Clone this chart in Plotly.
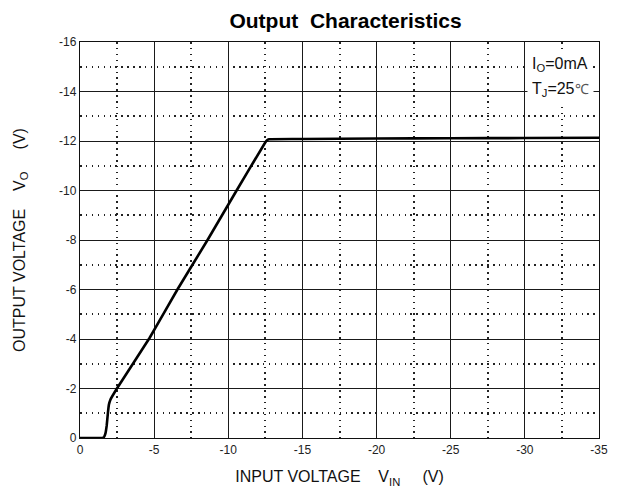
import plotly.graph_objects as go

# Data (V_IN, V_O in volts)
vin = [0, -1.0, -1.5, -1.62, -1.72, -1.8, -1.88, -1.95, -2.05, -2.49, -4.7, -6.57, -8.6, -10.56,
       -12.45, -12.6, -12.75, -15, -20, -25, -30, -35]
vout = [0, 0, 0, -0.04, -0.2, -0.5, -1.0, -1.35, -1.55, -2.0, -4.05, -6.0, -8.0, -10.0,
        -11.9, -12.02, -12.07, -12.08, -12.1, -12.11, -12.12, -12.13]

x_ticks = [0, -5, -10, -15, -20, -25, -30, -35]
y_ticks = [0, -2, -4, -6, -8, -10, -12, -14, -16]
x_minor = [-2.5, -7.5, -12.5, -17.5, -22.5, -27.5, -32.5]
y_minor = [-1, -3, -5, -7, -9, -11, -13, -15]

FONT = "Liberation Sans, Arial, sans-serif"

fig = go.Figure()
fig.add_trace(go.Scatter(x=vin, y=vout, mode="lines",
                         line=dict(color="black", width=2.6, shape="spline", smoothing=0.3),
                         hoverinfo="skip", showlegend=False))

tickfont = dict(family=FONT, size=12, color="#222")
minor_style = dict(showgrid=True, gridcolor="#222", gridwidth=1.6, griddash="1.5px,4.4px", ticks="")

fig.update_layout(
    xaxis=dict(
        range=[0, -35], tickvals=x_ticks, ticktext=[str(v) for v in x_ticks],
        showgrid=True, gridcolor="#1a1a1a", gridwidth=1.3,
        minor=dict(tickvals=x_minor, **minor_style),
        showline=True, linecolor="#111", linewidth=1.4, mirror=True,
        zeroline=False, ticks="", automargin=False, tickfont=tickfont,
        title=dict(text="INPUT VOLTAGE    V<sub>IN</sub>     (V)",
                   font=dict(family=FONT, size=16, color="#111"), standoff=15),
    ),
    yaxis=dict(
        range=[0, -16], tickvals=y_ticks, ticktext=[str(v) for v in y_ticks],
        showgrid=True, gridcolor="#1a1a1a", gridwidth=1.3,
        minor=dict(tickvals=y_minor, **minor_style),
        showline=True, linecolor="#111", linewidth=1.4, mirror=True,
        zeroline=False, ticks="", automargin=False, tickfont=tickfont,
        title=dict(text="OUTPUT VOLTAGE    V<sub>O</sub>     (V)",
                   font=dict(family=FONT, size=16, color="#111"), standoff=29),
    ),
)

fig.add_annotation(
    x=0.862, y=0.943, xref="paper", yref="paper", xanchor="left", yanchor="middle",
    text="I<sub>O</sub>=0mA", showarrow=False, align="left", bgcolor="white", borderpad=4,
    font=dict(family=FONT, size=16, color="#111"),
)
fig.add_annotation(
    x=0.862, y=0.880, xref="paper", yref="paper", xanchor="left", yanchor="middle",
    text="T<sub>J</sub>=25<span style='font-size:14px;color:#555'>℃</span>",
    showarrow=False, align="left", bgcolor="white", borderpad=4,
    font=dict(family=FONT, size=16, color="#111"),
)

fig.update_layout(
    width=616, height=484,
    margin=dict(l=72, r=25, t=34, b=54),
    paper_bgcolor="white", plot_bgcolor="white",
    title=dict(text="<b>Output  Characteristics</b>", x=0.548, xanchor="center", y=0.99, yanchor="top",
               font=dict(family=FONT, size=21, color="black")),
)

fig.write_html("out.html")
